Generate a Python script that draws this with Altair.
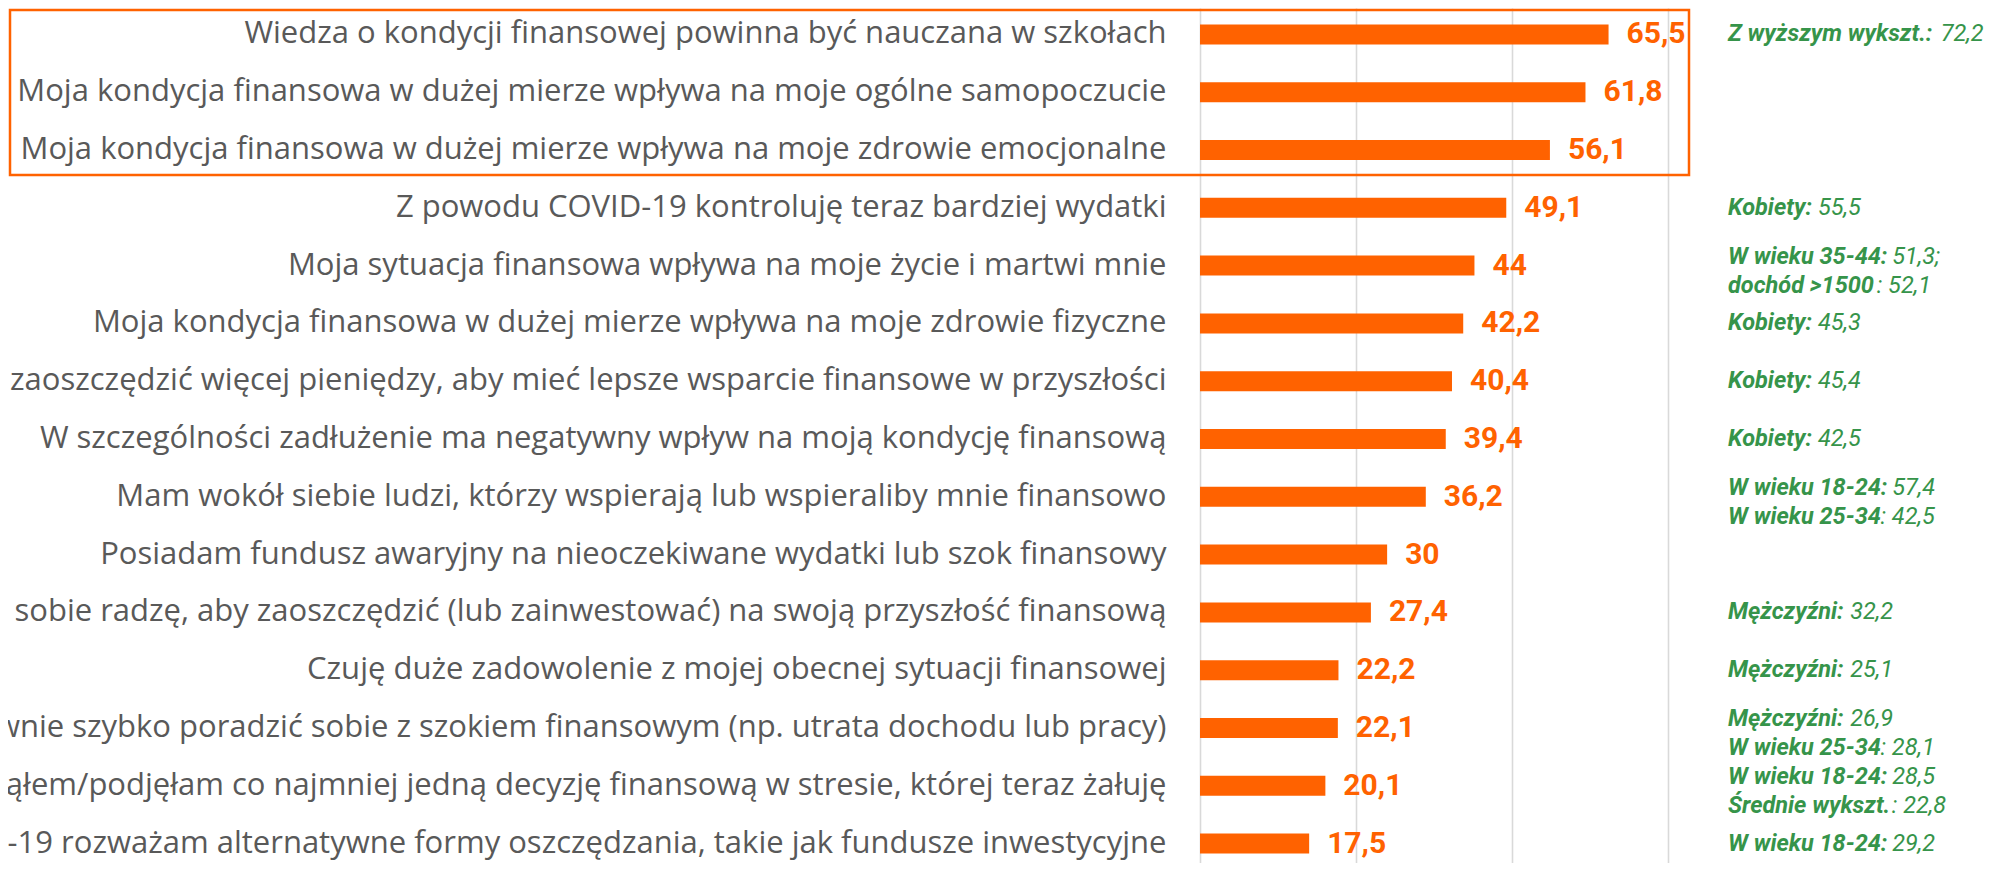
import altair as alt
import pandas as pd

# ---------------- data ----------------
categories = [
    "Wiedza o kondycji finansowej powinna być nauczana w szkołach",
    "Moja kondycja finansowa w dużej mierze wpływa na moje ogólne samopoczucie\u00a0",
    "Moja kondycja finansowa w dużej mierze wpływa na moje zdrowie emocjonalne",
    "Z powodu COVID-19 kontroluję teraz bardziej wydatki\u00a0",
    "Moja sytuacja finansowa wpływa na moje życie i martwi mnie\u00a0",
    "Moja kondycja finansowa w dużej mierze wpływa na moje zdrowie fizyczne",
    "Muszę zaoszczędzić więcej pieniędzy, aby mieć lepsze wsparcie finansowe w przyszłości",
    "W szczególności zadłużenie ma negatywny wpływ na moją kondycję finansową",
    "Mam wokół siebie ludzi, którzy wspierają lub wspieraliby mnie finansowo",
    "Posiadam fundusz awaryjny na nieoczekiwane wydatki lub szok finansowy",
    "Dobrze sobie radzę, aby zaoszczędzić (lub zainwestować) na swoją przyszłość finansową\u00a0",
    "Czuję duże zadowolenie z mojej obecnej sytuacji finansowej",
    "Mógłbym/mogłabym relatywnie szybko poradzić sobie z szokiem finansowym (np. utrata dochodu lub pracy)",
    "Podjąłem/podjęłam co najmniej jedną decyzję finansową w stresie, której teraz żałuję",
    "Z powodu COVID-19 rozważam alternatywne formy oszczędzania, takie jak fundusze inwestycyjne",
]
values = [65.5, 61.8, 56.1, 49.1, 44, 42.2, 40.4, 39.4, 36.2, 30, 27.4, 22.2, 22.1, 20.1, 17.5]

ann_rows = [0, 3, 4, 4, 5, 6, 7, 8, 8, 10, 11, 12, 12, 13, 13, 14]
ann_kind = ["single", "single", "first", "second", "single", "single", "single",
            "first", "second", "single", "single", "first", "second",
            "first", "second", "single"]
ann_bold = ["Z wyższym wykszt.:", "Kobiety:", "W wieku 35-44:", "dochód >1500",
            "Kobiety:", "Kobiety:", "Kobiety:", "W wieku 18-24:", "W wieku 25-34",
            "Mężczyźni:", "Mężczyźni:", "Mężczyźni:", "W wieku 25-34",
            "W wieku 18-24:", "Średnie wykszt.", "W wieku 18-24:"]
ann_regular = ["72,2", "55,5", "51,3;", ": 52,1", "45,3", "45,4", "42,5", "57,4",
               ": 42,5", "32,2", "25,1", "26,9", ": 28,1", "28,5", ": 22,8", "29,2"]

# ---------------- styling ----------------
ORANGE = "#ff6200"
GREEN = "#36944a"
GRAY_TXT = "#595959"
ANN_SIZE = 23.5

# approximate advance widths (em) of Roboto Bold Italic, used to place the
# regular part of each annotation right after its bold prefix
W_BOLD = {' ': 0.25, ':': 0.25, '.': 0.27, '-': 0.28, '>': 0.52, ';': 0.25, ',': 0.25,
          'W': 0.87, 'Z': 0.6, 'K': 0.62, 'M': 0.87, 'Ś': 0.6,
          'a': .54, 'b': .555, 'c': .52, 'd': .555, 'e': .53, 'h': .55, 'i': .25,
          'k': .51, 'm': .87, 'n': .55, 'o': .565, 'r': .35, 's': .515, 't': .33,
          'u': .55, 'w': .75, 'y': .48, 'z': .5, 'ż': .5, 'ź': .5, 'ó': .565,
          'ę': .53, 'ś': .515, 'ć': .52, 'l': .25}


def bold_width(s):
    return sum(W_BOLD.get(ch, 0.562 if ch.isdigit() else 0.55) for ch in s) * ANN_SIZE


ann_off = []
for b, r in zip(ann_bold, ann_regular):
    w = bold_width(b)
    if not r.startswith(":"):
        w += 0.248 * ANN_SIZE
    ann_off.append(w)

df = pd.DataFrame({"cat": categories, "value": values})
ann = pd.DataFrame({
    "cat": [categories[i] for i in ann_rows],
    "kind": ann_kind,
    "bold": ann_bold,
    "reg": ann_regular,
    "off": ann_off,
})

y_enc = alt.Y(
    "cat:N", sort=categories,
    scale=alt.Scale(paddingInner=0.654, paddingOuter=0.223, align=0.636),
    axis=alt.Axis(title=None, ticks=False, tickSize=0, domain=False, labelPadding=34,
                  labelFont="Open Sans", labelFontSize=31, labelColor=GRAY_TXT,
                  labelLimit=3000, grid=False),
)
x_enc = alt.X(
    "value:Q",
    scale=alt.Scale(domain=[0, 80], nice=False, zero=True),
    axis=alt.Axis(title=None, values=[0, 25, 50, 75], labels=False, ticks=False,
                  domain=False, grid=True, gridColor="#d9d9d9", gridWidth=1.6),
)

base = alt.Chart(df)
bars = base.mark_bar(color=ORANGE).encode(x=x_enc, y=y_enc)
vlabels = base.transform_calculate(
    label="replace(toString(datum.value), '.', ',')"
).mark_text(align="left", baseline="middle", dx=18, font="Roboto", fontWeight="bold",
            fontSize=30, color=ORANGE).encode(x=x_enc, y=y_enc, text="label:N")

ann_layers = []
for kind, dy in [("single", 0), ("first", -9), ("second", 20)]:
    a = alt.Chart(ann).transform_filter(alt.datum.kind == kind)
    ann_layers.append(
        a.mark_text(align="left", baseline="middle", dy=dy, font="Roboto",
                    fontStyle="italic", fontWeight="bold", fontSize=ANN_SIZE,
                    color=GREEN).encode(x=alt.value(528), y=y_enc, text="bold:N")
    )
    ann_layers.append(
        a.mark_text(align="left", baseline="middle", dy=dy, font="Roboto",
                    fontStyle="italic", fontWeight="normal", fontSize=ANN_SIZE,
                    color=GREEN).encode(
            x=alt.value(528),
            xOffset=alt.XOffset("off:Q", scale=None),
            y=y_enc, text="reg:N")
    )

box = alt.Chart(pd.DataFrame({"k": [0]})).mark_rect(
    fillOpacity=0, stroke=ORANGE, strokeWidth=2.5
).encode(x=alt.value(-1190), x2=alt.value(489), y=alt.value(2), y2=alt.value(167))

chart = alt.layer(bars, vlabels, *ann_layers, box).properties(
    width=499, height=855,
    padding={"left": 1192, "top": 0, "right": 288, "bottom": 0},
    autosize=alt.AutoSizeParams(type="none"),
    background="white",
).configure_view(strokeWidth=0)

chart.save("out.html", embed_options={"renderer": "svg", "actions": False})
